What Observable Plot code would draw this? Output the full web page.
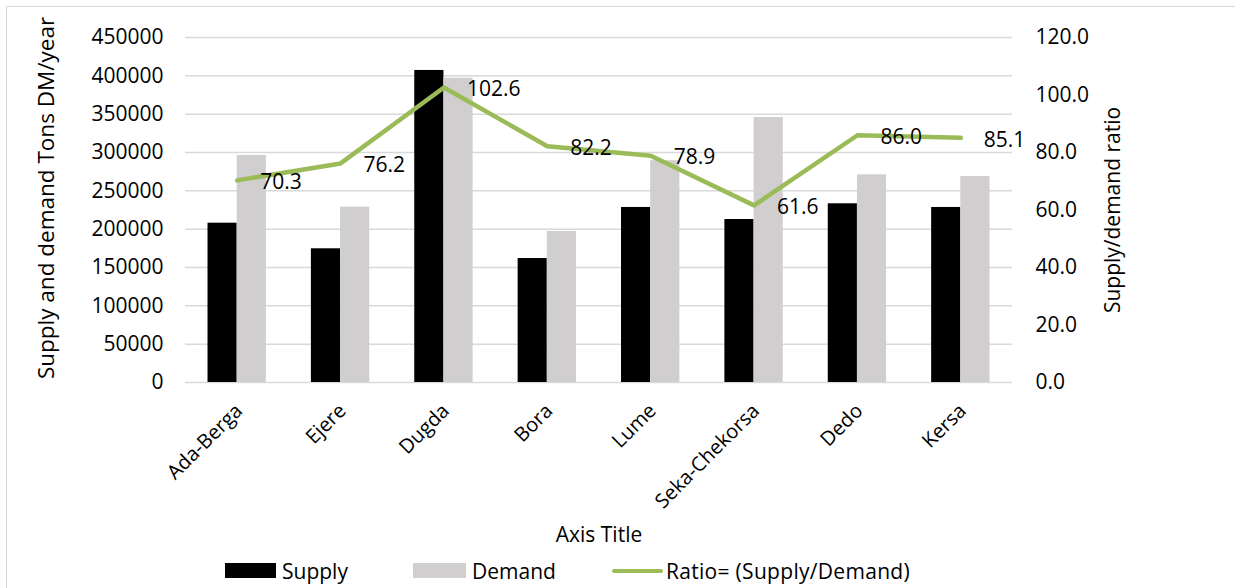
<!DOCTYPE html>
<html>
<head>
<meta charset="utf-8">
<script src="https://cdn.jsdelivr.net/npm/d3@7"></script>
<script src="https://cdn.jsdelivr.net/npm/@observablehq/plot@0.6"></script>
<style>
  html, body { margin: 0; padding: 0; background: #fff; }
  #chart { position: relative; width: 1235px; height: 588px; overflow: hidden; font-family: "Open Sans", sans-serif; color: #000; }
  #frame { position: absolute; left: 6px; top: 6px; width: 1300px; height: 700px; border-left: 1.5px solid #d9d9d9; border-top: 1.5px solid #d9d9d9; box-sizing: border-box; }
  #plot { position: absolute; left: 0; top: 0; }
  .legend { position: absolute; top: 558px; height: 26px; font-size: 21px; line-height: 26px; }
  .sw { position: absolute; }
</style>
</head>
<body>
<div id="chart">
  <div id="frame"></div>
  <div id="plot"></div>
  <div class="legend" style="left:225px"><span class="sw" style="left:0;top:5px;width:51px;height:15px;background:#000"></span><span style="position:absolute;left:57px;white-space:nowrap">Supply</span></div>
  <div class="legend" style="left:413px"><span class="sw" style="left:0;top:5px;width:53px;height:15px;background:#d0cece"></span><span style="position:absolute;left:59px;white-space:nowrap">Demand</span></div>
  <div class="legend" style="left:612px"><span class="sw" style="left:0;top:11px;width:51px;height:4px;background:#9bbb59;border-radius:2px"></span><span style="position:absolute;left:54px;white-space:nowrap;letter-spacing:0.3px">Ratio= (Supply/Demand)</span></div>
</div>
<script>
// Districts and their annual feed supply / demand (tons DM per year)
const districts = ["Ada-Berga", "Ejere", "Dugda", "Bora", "Lume", "Seka-Chekorsa", "Dedo", "Kersa"];
const supply = [207800, 174400, 407000, 161700, 228300, 212600, 233100, 228300];
const demand = [296100, 228700, 397000, 197000, 289300, 345600, 270900, 268700];
// Supply/demand ratio (%) as labelled on the line
const ratio = [70.3, 76.2, 102.6, 82.2, 78.9, 61.6, 86.0, 85.1];

// Axis ticks
const leftTicks = [0, 50000, 100000, 150000, 200000, 250000, 300000, 350000, 400000, 450000];
const rightTicks = [0, 20, 40, 60, 80, 100, 120];

// The ratio shares the tons axis: 120 on the right lines up with 450000 on the left
const k = 450000 / 120;

const rows = districts.map((d, i) => ({district: d, supply: supply[i], demand: demand[i], ratio: ratio[i]}));

const W = 1235, H = 555;
const fontFamily = "Open Sans, sans-serif";

const chart = Plot.plot({
  width: W,
  height: H,
  marginTop: 37,
  marginBottom: H - 382,
  marginLeft: 185,
  marginRight: W - 1012,
  style: {fontFamily, fontSize: "21px", color: "#000", background: "transparent"},
  x: {domain: districts, paddingInner: 0.718, paddingOuter: 0.359, round: false, label: null},
  y: {domain: [0, 450000], label: null},
  marks: [
    Plot.gridY(leftTicks, {stroke: "#d9d9d9", strokeOpacity: 1, strokeWidth: 1.5}),
    Plot.barY(rows, {x: "district", y: "supply", fill: "#000", dx: -14.6}),
    Plot.barY(rows, {x: "district", y: "demand", fill: "#d0cece", dx: 14.6}),
    Plot.line(rows, {x: "district", y: d => d.ratio * k, stroke: "#9bbb59", strokeWidth: 4.5, strokeLinejoin: "round", strokeLinecap: "round"}),
    Plot.text(rows, {x: "district", y: d => d.ratio * k, text: d => d.ratio.toFixed(1), textAnchor: "start", dx: 23, dy: 2, fontSize: 21, fill: "#000"}),
    Plot.axisY(leftTicks, {anchor: "left", tickSize: 0, tickPadding: 22, fontSize: 21, label: null, tickFormat: d => String(d)}),
    Plot.axisY(rightTicks.map(v => v * k), {anchor: "right", tickSize: 0, tickPadding: 23, fontSize: 21, label: null, tickFormat: d => (d / k).toFixed(1)}),
    Plot.axisX({tickSize: 0, tickRotate: -45, tickPadding: 8, dy: 17, dx: 2, fontSize: 20, label: null}),
    Plot.text(["Supply and demand Tons DM/year"], {frameAnchor: "left", textAnchor: "middle", rotate: -90, dx: -139, dy: -12, fontSize: 22.5, fill: "#000"}),
    Plot.text(["Supply/demand ratio"], {frameAnchor: "right", textAnchor: "middle", rotate: -90, dx: 101, fontSize: 21, fill: "#000"}),
    Plot.text(["Axis Title"], {frameAnchor: "bottom", dy: 159, fontSize: 21, fill: "#000"})
  ]
});
document.getElementById("plot").appendChild(chart);
</script>
</body>
</html>
